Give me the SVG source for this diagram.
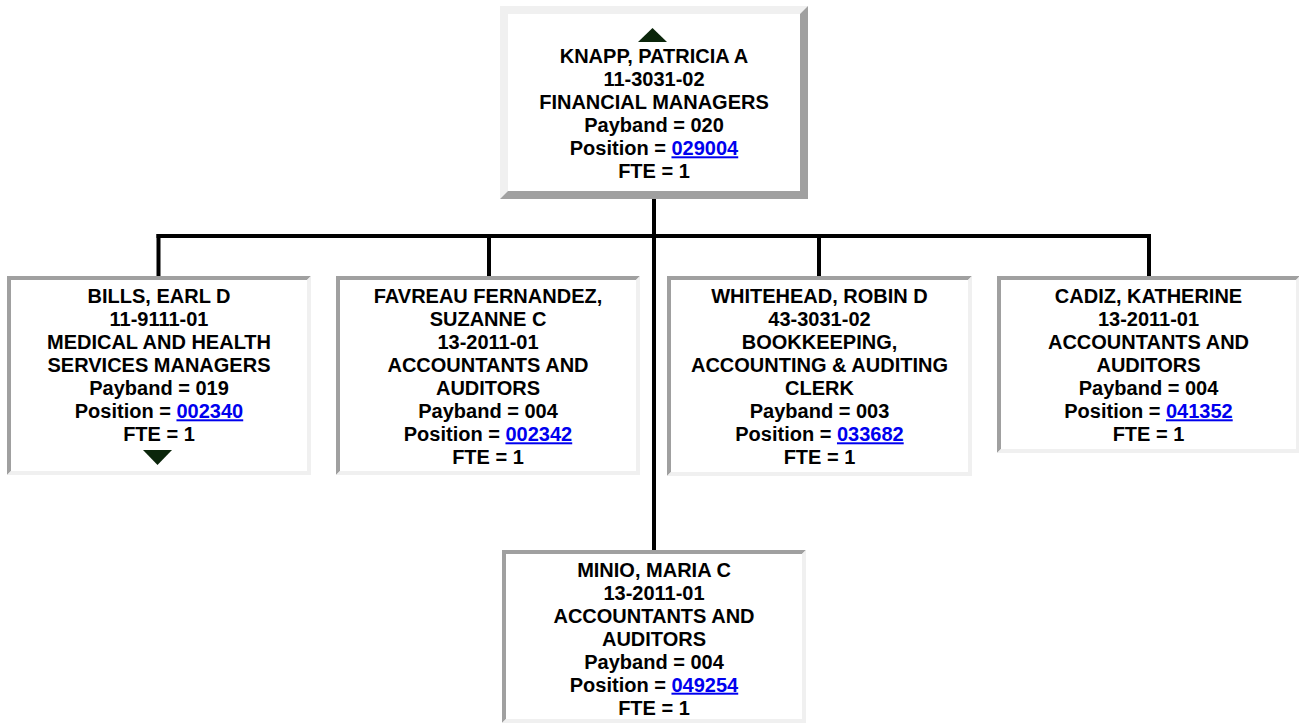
<svg xmlns="http://www.w3.org/2000/svg" width="1299" height="725" viewBox="0 0 1299 725">
<style>
  .bg { fill: #ffffff; }
  .lt { fill: #f0f0f0; }
  .dk { fill: #a0a0a0; }
  .tri { fill: #0b260b; }
  .t { font-family: "Liberation Sans", Arial, sans-serif; font-weight: bold; font-size: 20px; fill: #000000; text-anchor: middle; }
  .lnk { fill: #0000ee; text-decoration: underline; }
  .con { stroke: #000000; stroke-width: 4; fill: none; }
</style>
<rect x="0" y="0" width="1299" height="725" class="bg"/>

<g id="connectors">
  <line class="con" x1="654" y1="199" x2="654" y2="550"/>
  <line class="con" x1="156.5" y1="236" x2="1151" y2="236"/>
  <line class="con" x1="158.5" y1="234" x2="158.5" y2="276"/>
  <line class="con" x1="489" y1="234" x2="489" y2="276"/>
  <line class="con" x1="819" y1="234" x2="819" y2="276"/>
  <line class="con" x1="1149" y1="234" x2="1149" y2="276"/>
</g>

<g id="node-knapp">
  <rect x="500" y="6" width="308" height="193" class="bg"/>
  <polygon class="lt" points="500,6 808,6 800,14 508,14 508,191 500,199"/>
  <polygon class="dk" points="808,6 808,199 500,199 508,191 800,191 800,14"/>
  <polygon class="tri" points="638,42 667,42 652.5,28"/>
  <text class="t" x="654" y="63.3">KNAPP, PATRICIA A</text>
  <text class="t" x="654" y="86.3">11-3031-02</text>
  <text class="t" x="654" y="109.3">FINANCIAL MANAGERS</text>
  <text class="t" x="654" y="132.3">Payband = 020</text>
  <text class="t" x="654" y="155.3">Position = <tspan class="lnk">029004</tspan></text>
  <text class="t" x="654" y="178.3">FTE = 1</text>
</g>

<g id="node-bills">
  <rect x="7" y="276" width="304" height="199" class="bg"/>
  <polygon class="dk" points="7,276 311,276 307,280 11,280 11,471 7,475"/>
  <polygon class="lt" points="311,276 311,475 7,475 11,471 307,471 307,280"/>
  <text class="t" x="159" y="303.3">BILLS, EARL D</text>
  <text class="t" x="159" y="326.3">11-9111-01</text>
  <text class="t" x="159" y="349.3">MEDICAL AND HEALTH</text>
  <text class="t" x="159" y="372.3">SERVICES MANAGERS</text>
  <text class="t" x="159" y="395.3">Payband = 019</text>
  <text class="t" x="159" y="418.3">Position = <tspan class="lnk">002340</tspan></text>
  <text class="t" x="159" y="441.3">FTE = 1</text>
  <polygon class="tri" points="143,450 172,450 157.5,465"/>
</g>

<g id="node-favreau">
  <rect x="336" y="276" width="304" height="199" class="bg"/>
  <polygon class="dk" points="336,276 640,276 636,280 340,280 340,471 336,475"/>
  <polygon class="lt" points="640,276 640,475 336,475 340,471 636,471 636,280"/>
  <text class="t" x="488" y="303.3">FAVREAU FERNANDEZ,</text>
  <text class="t" x="488" y="326.3">SUZANNE C</text>
  <text class="t" x="488" y="349.3">13-2011-01</text>
  <text class="t" x="488" y="372.3">ACCOUNTANTS AND</text>
  <text class="t" x="488" y="395.3">AUDITORS</text>
  <text class="t" x="488" y="418.3">Payband = 004</text>
  <text class="t" x="488" y="441.3">Position = <tspan class="lnk">002342</tspan></text>
  <text class="t" x="488" y="464.3">FTE = 1</text>
</g>

<g id="node-whitehead">
  <rect x="667" y="276" width="305" height="200" class="bg"/>
  <polygon class="dk" points="667,276 972,276 968,280 671,280 671,472 667,476"/>
  <polygon class="lt" points="972,276 972,476 667,476 671,472 968,472 968,280"/>
  <text class="t" x="819.5" y="303.3">WHITEHEAD, ROBIN D</text>
  <text class="t" x="819.5" y="326.3">43-3031-02</text>
  <text class="t" x="819.5" y="349.3">BOOKKEEPING,</text>
  <text class="t" x="819.5" y="372.3">ACCOUNTING &amp; AUDITING</text>
  <text class="t" x="819.5" y="395.3">CLERK</text>
  <text class="t" x="819.5" y="418.3">Payband = 003</text>
  <text class="t" x="819.5" y="441.3">Position = <tspan class="lnk">033682</tspan></text>
  <text class="t" x="819.5" y="464.3">FTE = 1</text>
</g>

<g id="node-cadiz">
  <rect x="997" y="276" width="303" height="177" class="bg"/>
  <polygon class="dk" points="997,276 1300,276 1296,280 1001,280 1001,449 997,453"/>
  <polygon class="lt" points="1300,276 1300,453 997,453 1001,449 1296,449 1296,280"/>
  <text class="t" x="1148.5" y="303.3">CADIZ, KATHERINE</text>
  <text class="t" x="1148.5" y="326.3">13-2011-01</text>
  <text class="t" x="1148.5" y="349.3">ACCOUNTANTS AND</text>
  <text class="t" x="1148.5" y="372.3">AUDITORS</text>
  <text class="t" x="1148.5" y="395.3">Payband = 004</text>
  <text class="t" x="1148.5" y="418.3">Position = <tspan class="lnk">041352</tspan></text>
  <text class="t" x="1148.5" y="441.3">FTE = 1</text>
</g>

<g id="node-minio">
  <rect x="502" y="550" width="304" height="173" class="bg"/>
  <polygon class="dk" points="502,550 806,550 802,554 506,554 506,719 502,723"/>
  <polygon class="lt" points="806,550 806,723 502,723 506,719 802,719 802,554"/>
  <text class="t" x="654" y="576.7">MINIO, MARIA C</text>
  <text class="t" x="654" y="599.7">13-2011-01</text>
  <text class="t" x="654" y="622.7">ACCOUNTANTS AND</text>
  <text class="t" x="654" y="645.7">AUDITORS</text>
  <text class="t" x="654" y="668.7">Payband = 004</text>
  <text class="t" x="654" y="691.7">Position = <tspan class="lnk">049254</tspan></text>
  <text class="t" x="654" y="714.7">FTE = 1</text>
</g>
</svg>
